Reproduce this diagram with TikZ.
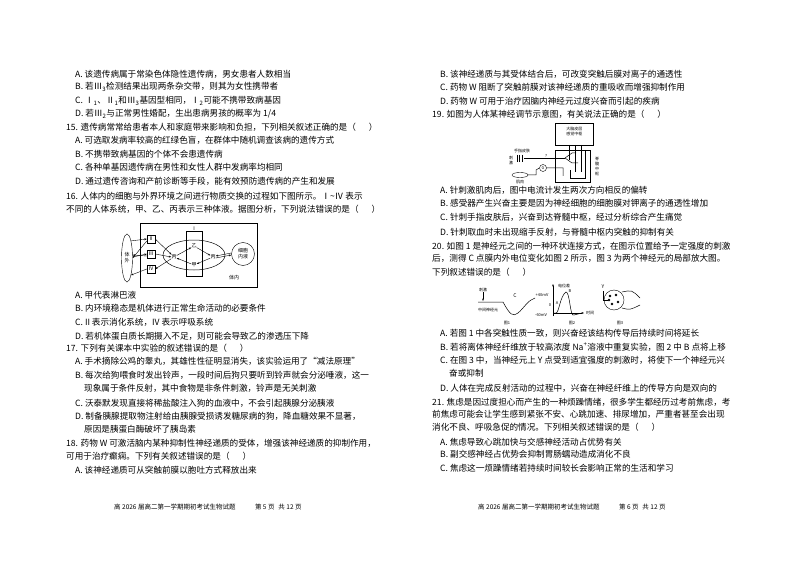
\documentclass[tikz,border=0pt]{standalone}
\usepackage{fontspec}
\setmainfont{Noto Sans CJK SC}
\usetikzlibrary{arrows.meta,shapes.geometric}
\begin{document}
\begin{tikzpicture}[x=1pt,y=-1pt,
  t/.style={anchor=west,inner sep=0pt,font=\fontsize{8.6}{10}\selectfont},
  s/.style={inner sep=0pt,font=\fontsize{5}{6}\selectfont},
  sb/.style={draw,inner sep=0pt,minimum size=8pt,font=\fontsize{5}{6}\selectfont},
  ar/.style={-{Stealth[length=2.5pt]},line width=0.4pt},
  ln/.style={line width=0.5pt}]
\useasboundingbox[fill=white] (0,0) rectangle (794,561);
% ---------- left column ----------
\node[t] (l1) at (75,74) {A. 该遗传病属于常染色体隐性遗传病，男女患者人数相当};
\node[t] (l2) at (75,87) {B. 若Ⅲ\textsubscript{3}检测结果出现两条杂交带，则其为女性携带者};
\node[t] (l3) at (75,101) {C. Ⅰ\textsubscript{1}、Ⅱ\textsubscript{1}和Ⅲ\textsubscript{3}基因型相同，Ⅰ\textsubscript{2}可能不携带致病基因};
\node[t] (l4) at (75,114) {D. 若Ⅲ\textsubscript{2}与正常男性婚配，生出患病男孩的概率为 1/4};
\node[t] (l5) at (66,127) {15. 遗传病常常给患者本人和家庭带来影响和负担，下列相关叙述正确的是（\hspace{1.5em}）};
\node[t] (l6) at (75,140) {A. 可选取发病率较高的红绿色盲，在群体中随机调查该病的遗传方式};
\node[t] (l7) at (75,154) {B. 不携带致病基因的个体不会患遗传病};
\node[t] (l8) at (75,167) {C. 各种单基因遗传病在男性和女性人群中发病率均相同};
\node[t] (l9) at (75,181) {D. 通过遗传咨询和产前诊断等手段，能有效预防遗传病的产生和发展};
\node[t] (l10) at (66,196) {16. 人体内的细胞与外界环境之间进行物质交换的过程如下图所示。Ⅰ\textasciitilde Ⅳ 表示};
\node[t] (l11) at (66,209) {不同的人体系统，甲、乙、丙表示三种体液。据图分析，下列说法错误的是（\hspace{1.5em}）};
% diagram 16
\draw[ln] (140,223) rectangle (257,287);
\node[draw,ellipse,minimum width=11pt,minimum height=48pt,inner sep=0pt] (wai) at (127,258) {};
\node[s,align=center] (waiT) at (127,258) {体\\外};
\node[sb] (s2) at (151,239) {Ⅱ};
\node[sb] (s3) at (151,254) {Ⅲ};
\node[sb] (s4) at (151,269) {Ⅳ};
\draw[ln] (186,231) rectangle (202,276);
\node[s] (s1) at (194,229) {Ⅰ};
\draw[ln] (194,255) ellipse (31 and 15);
\node[s] (yi) at (194,246) {乙};
\node[s] (jia) at (194,265) {甲};
\node[s] (bingL) at (174,257) {丙};
\node[s] (bingR) at (213,257) {丙};
\node[draw,circle,minimum size=23pt,inner sep=0pt,font=\fontsize{5}{6}\selectfont,align=center] (xb) at (243,254) {细胞\\内液};
\node[s] (tinei) at (234,278) {体内};
\draw[ar] (wai.north east) -- (s2.west);
\draw[ar] (s2.west) ++(0,2) -- (wai.east);
\draw[ar] (wai.east) ++(0,-1) -- (s3.west);
\draw[ar] (s3.west) ++(0,2) -- ([yshift=3pt]wai.east);
\draw[ar] (s4.west) -- (wai.south east);
\draw[ar] (s2.east) -- (bingL);
\draw[ar] (s3.east) -- (bingL.west);
\draw[ar] (bingL) -- (s4.east);
\draw[ar] (bingL) -- (yi);
\draw[ar] (yi) -- (bingR);
\draw[ar] (bingR) -- (jia);
\draw[ar] (jia) -- (bingL);
\draw[ar] ([yshift=-1pt]bingR.east) -- ([yshift=-1pt]xb.west);
\draw[ar] ([yshift=1pt]xb.west) -- ([yshift=1pt]bingR.east);
\node[t] (l12) at (75,295) {A. 甲代表淋巴液};
\node[t] (l13) at (75,308) {B. 内环境稳态是机体进行正常生命活动的必要条件};
\node[t] (l14) at (75,322) {C. II 表示消化系统，IV 表示呼吸系统};
\node[t] (l15) at (75,336) {D. 若机体蛋白质长期摄入不足，则可能会导致乙的渗透压下降};
\node[t] (l16) at (66,348) {17. 下列有关课本中实验的叙述错误的是（\hspace{1.5em}）};
\node[t] (l17) at (75,361) {A. 手术摘除公鸡的睾丸，其雄性性征明显消失，该实验运用了“减法原理”};
\node[t] (l18) at (75,375) {B. 每次给狗喂食时发出铃声，一段时间后狗只要听到铃声就会分泌唾液，这一};
\node[t] (l19) at (84,388) {现象属于条件反射，其中食物是非条件刺激，铃声是无关刺激};
\node[t] (l20) at (75,403) {C. 沃泰默发现直接将稀盐酸注入狗的血液中，不会引起胰腺分泌胰液};
\node[t] (l21) at (75,416) {D. 制备胰腺提取物注射给由胰腺受损诱发糖尿病的狗，降血糖效果不显著，};
\node[t] (l22) at (84,429) {原因是胰蛋白酶破坏了胰岛素};
\node[t] (l23) at (66,443) {18. 药物 W 可激活脑内某种抑制性神经递质的受体，增强该神经递质的抑制作用，};
\node[t] (l24) at (66,456) {可用于治疗癫痫。下列有关叙述错误的是（\hspace{1.5em}）};
\node[t] (l25) at (75,470) {A. 该神经递质可从突触前膜以胞吐方式释放出来};
\node[t,font=\fontsize{6.5}{8}\selectfont] (f1) at (114,507) {高 2026 届高二第一学期期初考试生物试题\hspace{3em}第 5 页\hspace{0.6em}共 12 页};
% ---------- right column ----------
\node[t] (r1) at (440,74) {B. 该神经递质与其受体结合后，可改变突触后膜对离子的通透性};
\node[t] (r2) at (440,87) {C. 药物 W 阻断了突触前膜对该神经递质的重吸收而增强抑制作用};
\node[t] (r3) at (440,101) {D. 药物 W 可用于治疗因脑内神经元过度兴奋而引起的疾病};
\node[t] (r4) at (432,114) {19. 如图为人体某神经调节示意图，有关说法正确的是（\hspace{1.5em}）};
% diagram 19
\node[draw,ln,minimum width=38pt,minimum height=22pt,inner sep=0pt,font=\fontsize{4}{5}\selectfont,align=center,anchor=north west,text depth=6pt] (brain) at (555,123) {大脑皮层\\感觉中枢};
\node[draw,ln,minimum width=35pt,minimum height=32pt,inner sep=0pt,anchor=north west] (cord) at (555,150) {};
\node[s,font=\fontsize{4}{5}\selectfont,align=center] (cordT) at (597,166) {脊\\髓\\中\\枢};
\node[s,font=\fontsize{4}{5}\selectfont] (skin) at (522,151) {手指皮肤};
\node[s,font=\fontsize{4}{5}\selectfont,align=center] (ci) at (511,160) {刺\\激};
\draw[ln] (517,155) -- (517,162) (519,155) -- (519,162) (522,155) -- (522,162);
\coordinate (k) at (565,158);
\draw[ln] (524,158) -- (k);
\node[s,font=\fontsize{4}{5}\selectfont] (q) at (546,156) {?};
\draw[ln] (k) -- (572,153) -- (576,153) (k) -- (572,163) -- (578,163);
\draw[ln] (569,145) -- (569,160) (575,145) -- (575,172) (581,145) -- (581,172);
\draw[ln] (585,150) -- (585,178) -- (570,178) -- (570,170);
\node[draw,circle,minimum size=7pt,inner sep=0pt,font=\fontsize{4}{5}\selectfont] (G) at (543,168) {G};
\draw[ln] (536,170) -- (536,175) -- (528,175) (536,170) -- (G.west) (G.east) -- (563,168) -- (563,176);
\node[draw,ellipse,minimum width=16pt,minimum height=5pt,inner sep=0pt] (mus) at (520,175) {};
\node[s,font=\fontsize{4}{5}\selectfont] (musT) at (520,182) {肌肉};
\node[t] (r5) at (440,190) {A. 针刺激肌肉后，图中电流计发生两次方向相反的偏转};
\node[t] (r6) at (440,203) {B. 感受器产生兴奋主要是因为神经细胞的细胞膜对钾离子的通透性增加};
\node[t] (r7) at (440,217) {C. 针刺手指皮肤后，兴奋到达脊髓中枢，经过分析综合产生痛觉};
\node[t] (r8) at (440,232) {D. 针刺取血时未出现缩手反射，与脊髓中枢内突触的抑制有关};
\node[t] (r9) at (432,246) {20. 如图 1 是神经元之间的一种环状连接方式，在图示位置给予一定强度的刺激};
\node[t] (r10) at (432,258) {后，测得 C 点膜内外电位变化如图 2 所示，图 3 为两个神经元的局部放大图。};
\node[t] (r11) at (432,272) {下列叙述错误的是（\hspace{1.5em}）};
% diagram 20
\node[s,font=\fontsize{4}{5}\selectfont] (cj) at (483,290) {刺激};
\coordinate (p1) at (478,302); \coordinate (p2) at (503,302);
\draw[ar] (cj) -- (483,301);
\draw[ln] (p1) -- (p2) .. controls (510,315) and (513,317) .. (518,313) .. controls (524,308) and (528,300) .. (535,298);
\node[s] (Cn) at (515,296) {C};
\node[s,font=\fontsize{4}{5}\selectfont] (zj) at (488,310) {中间神经元};
\node[s,font=\fontsize{4}{5}\selectfont] (p40) at (542,295) {+40mV};
\node[s,font=\fontsize{4}{5}\selectfont] (m60) at (541,315) {-60mV};
\node[s,font=\fontsize{4}{5}\selectfont] (z0) at (550,305) {0};
\node[s,font=\fontsize{4}{5}\selectfont] (dw) at (564,286) {电位差};
\node[s,font=\fontsize{4}{5}\selectfont] (sj) at (590,313) {时间};
\coordinate (ax0) at (553,316); \coordinate (axT) at (553,284); \coordinate (axR) at (584,313);
\draw[ar] (ax0) -- (axT);
\draw[ar] (553,313) -- (axR);
\draw[ln] (553,313) -- (556,313) .. controls (559,313) and (560,296) .. (566,292) .. controls (570,292) and (570,318) .. (574,315) -- (582,313);
\node[s,font=\fontsize{4}{5}\selectfont] (A2) at (557,303) {A};
\node[s,font=\fontsize{4}{5}\selectfont] (B2) at (570,291) {B};
\node[s,font=\fontsize{4}{5}\selectfont] (t1) at (507,323) {图1};
\node[s,font=\fontsize{4}{5}\selectfont] (t2) at (572,323) {图2};
\node[s,font=\fontsize{4}{5}\selectfont] (t3) at (620,323) {图3};
\node[s] (Yl) at (603,287) {Y};
\draw[ln] (603,291) -- (603,300) -- (608,300);
\node[draw,circle,minimum size=20pt,inner sep=0pt] (syn) at (614,300) {};
\foreach \a/\b in {610/296,616/295,612/304,618/302,609/300}{\fill (\a,\b) circle (1.3);}
\draw[ln] (622,292) .. controls (632,290) .. (640,298) (622,308) .. controls (630,310) .. (640,305);
\node[t] (r12) at (440,333) {A. 若图 1 中各突触性质一致，则兴奋经该结构传导后持续时间将延长};
\node[t] (r13) at (440,347) {B. 若将离体神经纤维放于较高浓度 Na\textsuperscript{+}溶液中重复实验，图 2 中 B 点将上移};
\node[t] (r14) at (440,360) {C. 在图 3 中，当神经元上 Y 点受到适宜强度的刺激时，将使下一个神经元兴};
\node[t] (r15) at (449,373) {奋或抑制};
\node[t] (r16) at (440,388) {D. 人体在完成反射活动的过程中，兴奋在神经纤维上的传导方向是双向的};
\node[t] (r17) at (432,402) {21. 焦虑是因过度担心而产生的一种烦躁情绪，很多学生都经历过考前焦虑，考};
\node[t] (r18) at (432,414) {前焦虑可能会让学生感到紧张不安、心跳加速、排尿增加，严重者甚至会出现};
\node[t] (r19) at (432,427) {消化不良、呼吸急促的情况。下列相关叙述错误的是（\hspace{1.5em}）};
\node[t] (r20) at (440,442) {A. 焦虑导致心跳加快与交感神经活动占优势有关};
\node[t] (r21) at (440,454) {B. 副交感神经占优势会抑制胃肠蠕动造成消化不良};
\node[t] (r22) at (440,468) {C. 焦虑这一烦躁情绪若持续时间较长会影响正常的生活和学习};
\node[t,font=\fontsize{6.5}{8}\selectfont] (f2) at (478,507) {高 2026 届高二第一学期期初考试生物试题\hspace{3em}第 6 页\hspace{0.6em}共 12 页};
\end{tikzpicture}
\end{document}
